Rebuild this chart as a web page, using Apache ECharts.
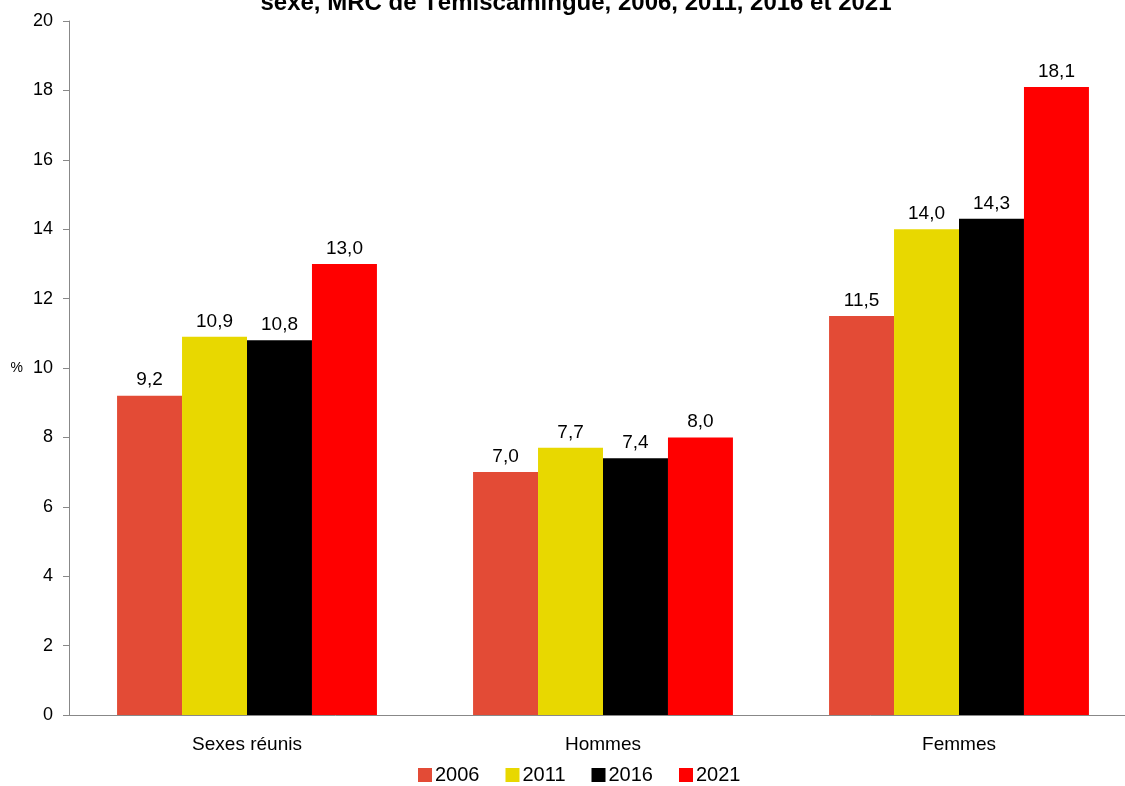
<!DOCTYPE html>
<html>
<head>
<meta charset="utf-8">
<script src="https://cdn.jsdelivr.net/npm/echarts@6/dist/echarts.min.js"></script>
<style>html,body{margin:0;padding:0;background:#fff;overflow:hidden;width:1125px;height:786px}#c{width:1140px;height:786px}</style>
</head>
<body>
<div id="c"></div>
<script>
const categories = ['Sexes réunis', 'Hommes', 'Femmes'];
const years = ['2006', '2011', '2016', '2021'];
const v2006 = [9.2, 7.0, 11.5];
const v2011 = [10.9, 7.7, 14.0];
const v2016 = [10.8, 7.4, 14.3];
const v2021 = [13.0, 8.0, 18.1];
const yTicks = [0, 2, 4, 6, 8, 10, 12, 14, 16, 18, 20];
const colors = ['#E34B36', '#E8D800', '#000000', '#FF0000'];
const values = [v2006, v2011, v2016, v2021];

const font = 'Arial, "Liberation Sans", sans-serif';
const chart = echarts.init(document.getElementById('c'), null, {renderer: 'canvas'});
chart.setOption({
  animation: false,
  backgroundColor: '#fff',
  title: {
    text: 'sexe, MRC de Témiscamingue, 2006, 2011, 2016 et 2021',
    left: 571,
    textAlign: 'center',
    top: -14,
    textStyle: {fontFamily: font, fontSize: 24, fontWeight: 'bold', color: '#000'}
  },
  legend: {
    data: years,
    top: 760,
    left: 413,
    itemWidth: 14,
    itemHeight: 14,
    itemGap: 26,
    icon: 'rect',
    textStyle: {fontFamily: font, fontSize: 20, color: '#000', padding: [0, 0, 0, -2]}
  },
  grid: {left: 69, right: 3, top: 21, bottom: 71, containLabel: false},
  xAxis: {
    type: 'category',
    data: categories,
    axisLine: {lineStyle: {color: '#888', width: 1}},
    axisTick: {show: false},
    axisLabel: {fontFamily: font, fontSize: 19, color: '#000', margin: 20}
  },
  yAxis: {
    type: 'value',
    min: yTicks[0],
    max: yTicks[yTicks.length - 1],
    interval: 2,
    name: '%',
    nameLocation: 'middle',
    nameRotate: 0,
    nameGap: 46,
    nameTextStyle: {fontFamily: font, fontSize: 14, color: '#000'},
    axisLine: {show: true, lineStyle: {color: '#888', width: 1}},
    axisTick: {show: true, length: 6, lineStyle: {color: '#888'}},
    axisLabel: {fontFamily: font, fontSize: 18, color: '#000', margin: 16},
    splitLine: {show: false}
  },
  series: years.map((y, i) => ({
    name: y,
    type: 'bar',
    data: values[i],
    barGap: '0%',
    barCategoryGap: '27%',
    itemStyle: {color: colors[i]},
    label: {
      show: true,
      position: 'top',
      distance: 6,
      fontFamily: font,
      fontSize: 19,
      color: '#000',
      formatter: p => p.value.toFixed(1).replace('.', ',')
    }
  }))
});
</script>
</body>
</html>
